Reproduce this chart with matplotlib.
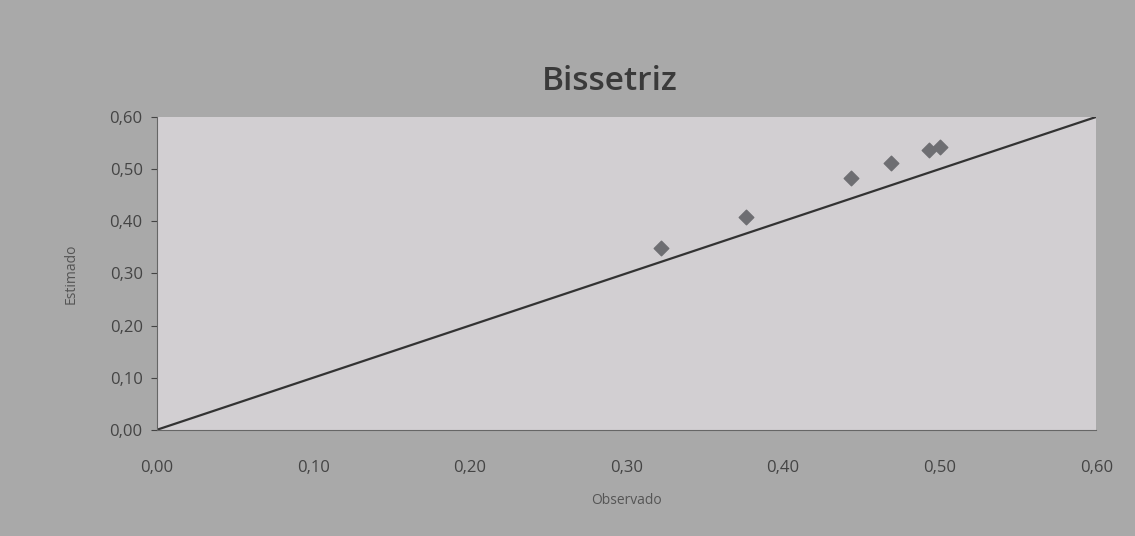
import matplotlib
matplotlib.use("Agg")
import matplotlib.pyplot as plt

# valores (observado x estimado)
observado = [0.322, 0.376, 0.443, 0.469, 0.493, 0.500]
estimado = [0.348, 0.408, 0.482, 0.512, 0.537, 0.542]
# reta bissetriz
bis_x = [0.0, 0.6]
bis_y = [0.0, 0.6]
ticks = [0.0, 0.1, 0.2, 0.3, 0.4, 0.5, 0.6]
tick_labels = ["0,00", "0,10", "0,20", "0,30", "0,40", "0,50", "0,60"]

plt.rcParams['font.family'] = ['Open Sans', 'DejaVu Sans']

fig = plt.figure(figsize=(11.35, 5.36), dpi=100)
fig.patch.set_facecolor('#a9a9a9')
ax = fig.add_axes([0.138, 0.198, 0.828, 0.584])
ax.set_facecolor('#d2cfd2')

ax.plot(bis_x, bis_y, color='#333333', lw=1.6, zorder=2)
ax.scatter(observado, estimado, marker='D', s=55, color='#6e6e72', zorder=3)

ax.set_xlim(0, 0.6)
ax.set_ylim(0, 0.6)
ax.set_xticks(ticks)
ax.set_xticklabels(tick_labels)
ax.set_yticks(ticks)
ax.set_yticklabels(tick_labels)
ax.tick_params(axis='x', length=0, pad=22, labelsize=12, colors='#444444')
ax.tick_params(axis='y', length=4, pad=6, labelsize=12, colors='#444444', direction='out')
for s in ['top', 'right']:
    ax.spines[s].set_visible(False)
for s in ['left', 'bottom']:
    ax.spines[s].set_color('#666666')

ax.set_xlabel('Observado', fontsize=10, color='#555555', labelpad=12)
ax.set_ylabel('Estimado', fontsize=10, color='#555555', labelpad=22)
fig.text(0.537, 0.848, 'Bissetriz', ha='center', va='center', fontsize=24,
         fontweight='semibold', color='#3a3a3a')

fig.savefig('out.png', dpi=100, facecolor=fig.get_facecolor())
